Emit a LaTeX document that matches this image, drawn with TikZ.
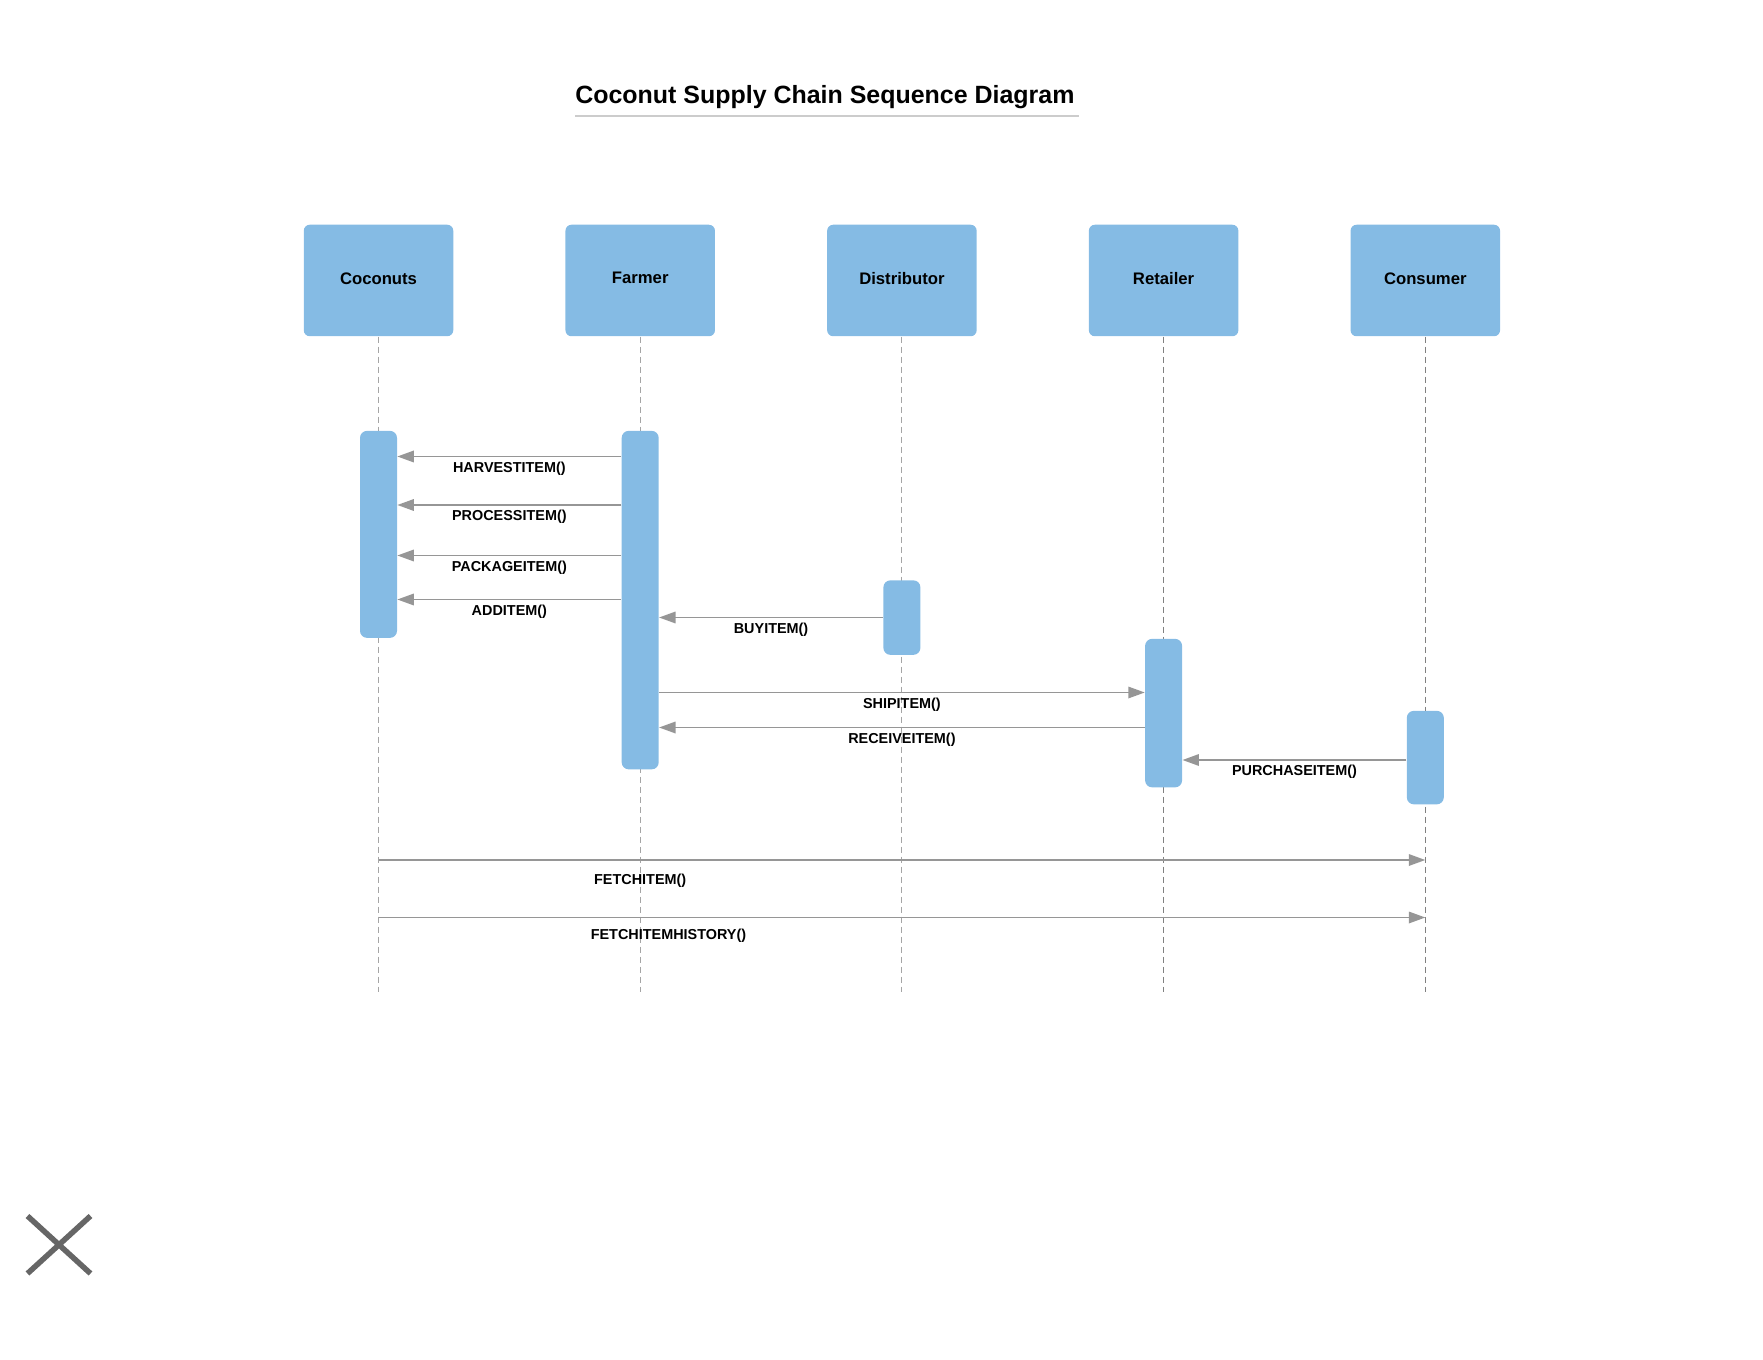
\documentclass[tikz,border=0pt]{standalone}
\usepackage{fontspec}
\setmainfont{Liberation Sans}
\usetikzlibrary{arrows.meta,positioning}

\definecolor{actblue}{RGB}{133,187,228}
\definecolor{msggray}{RGB}{150,150,150}
\definecolor{lifegray}{RGB}{165,165,165}
\definecolor{closegray}{RGB}{102,102,102}

\begin{document}
\begin{tikzpicture}[
    head/.style={fill=actblue, rounded corners=0.12cm, minimum width=2.99cm, minimum height=2.23cm, align=center, text depth=0.09cm, font=\fontsize{9.5}{11}\selectfont\bfseries},
    bar/.style={fill=actblue, rounded corners=0.14cm, minimum width=0.74cm, inner sep=0pt, anchor=north},
    lifeline/.style={draw=lifegray, line width=0.6pt, dash pattern=on 0.12cm off 0.08cm},
    msg/.style={-{Triangle[length=0.33cm, width=0.23cm]}, draw=msggray, line width=1pt},
    msglabel/.style={font=\fontsize{8.2}{10}\selectfont\bfseries, inner sep=2.5pt}
]
\useasboundingbox (0,0) rectangle (35.26,-27.2);

% Title
\node[font=\fontsize{14.2}{17}\selectfont\bfseries, inner sep=0pt, anchor=west] (title) at (11.5,-1.95) {Coconut Supply Chain Sequence Diagram};
\draw[gray!40, line width=0.8pt] ([yshift=-0.13cm]title.south west) -- ([xshift=0.08cm, yshift=-0.13cm]title.south east);

% Heads
\node[head] (coconuts) at (7.57,-5.61) {Coconuts};
\node[head, right=2.23cm of coconuts] (farmer) {Farmer};
\node[head, right=2.23cm of farmer] (distributor) {Distributor};
\node[head, right=2.23cm of distributor] (retailer) {Retailer};
\node[head, right=2.23cm of retailer] (consumer) {Consumer};

% Lifelines
\coordinate (bottom) at (0,-19.83);
\draw[lifeline] (coconuts.south) -- (coconuts |- bottom);
\draw[lifeline] (farmer.south) -- (farmer |- bottom);
\draw[lifeline] (distributor.south) -- (distributor |- bottom);
\draw[lifeline, draw=gray, line width=0.8pt] (retailer.south) -- (retailer |- bottom);
\draw[lifeline, draw=gray, line width=0.8pt] (consumer.south) -- (consumer |- bottom);

% Activations
\node[bar, minimum height=4.14cm] (cocobar) at (coconuts |- 0,-8.61) {};
\node[bar, minimum height=6.77cm] (farmbar) at (farmer |- 0,-8.61) {};
\node[bar, minimum height=1.49cm] (distbar) at (distributor |- 0,-11.60) {};
\node[bar, minimum height=2.97cm] (retailbar) at (retailer |- 0,-12.77) {};
\node[bar, minimum height=1.87cm] (consbar) at (consumer |- 0,-14.21) {};

% Messages
\draw[msg] (farmbar.west |- 0,-9.13) -- (cocobar.east |- 0,-9.13) node[midway, below, msglabel] {HARVESTITEM()};
\draw[msg] (farmbar.west |- 0,-10.10) -- (cocobar.east |- 0,-10.10) node[midway, below, msglabel] {PROCESSITEM()};
\draw[msg] (farmbar.west |- 0,-11.11) -- (cocobar.east |- 0,-11.11) node[midway, below, msglabel] {PACKAGEITEM()};
\draw[msg] (farmbar.west |- 0,-11.99) -- (cocobar.east |- 0,-11.99) node[midway, below, msglabel] {ADDITEM()};
\draw[msg] (distbar.west |- 0,-12.35) -- (farmbar.east |- 0,-12.35) node[midway, below, msglabel] {BUYITEM()};
\draw[msg] (farmbar.east |- 0,-13.85) -- (retailbar.west |- 0,-13.85) node[midway, below, msglabel] {SHIPITEM()};
\draw[msg] (retailbar.west |- 0,-14.55) -- (farmbar.east |- 0,-14.55) node[midway, below, msglabel] {RECEIVEITEM()};
\draw[msg] (consbar.west |- 0,-15.20) -- (retailbar.east |- 0,-15.20) node[midway, below, msglabel] {PURCHASEITEM()};
\draw[msg] (coconuts |- 0,-17.20) -- (consumer |- 0,-17.20) node[pos=0.25, below=0.18cm, msglabel] {FETCHITEM()};
\draw[msg] (coconuts |- 0,-18.35) -- (consumer |- 0,-18.35) node[pos=0.277, below=0.12cm, msglabel] {FETCHITEMHISTORY()};

% Close mark
\draw[closegray, line width=0.11cm] (0.55,-24.32) -- (1.81,-25.47) (0.55,-25.47) -- (1.81,-24.32);

\end{tikzpicture}
\end{document}
